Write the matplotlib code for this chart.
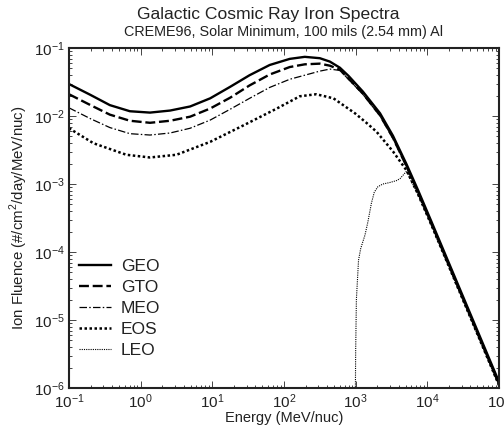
import numpy as np
import matplotlib
matplotlib.use("Agg")
import matplotlib.pyplot as plt
from matplotlib.ticker import LogLocator, NullFormatter

plt.rcParams['font.family'] = ['Liberation Sans', 'DejaVu Sans']
plt.rcParams['mathtext.fontset'] = 'custom'
plt.rcParams['mathtext.rm'] = 'Liberation Sans'

# energy grid (log10 MeV/nuc) used by GEO, GTO, MEO
main_log_energy = [-1.0, -0.7, -0.43, -0.15, 0.13, 0.41, 0.69, 0.97, 1.25, 1.52, 1.80,
                   2.08, 2.29, 2.50, 2.64, 2.78, 2.90, 3.10, 3.34, 3.52, 3.71, 3.87,
                   4.06, 4.17, 4.50, 4.75, 5.0]
geo_log_flux = [-1.53, -1.69, -1.84, -1.93, -1.95, -1.92, -1.86, -1.74, -1.57, -1.40, -1.25,
                -1.16, -1.13, -1.15, -1.20, -1.29, -1.41, -1.64, -1.96, -2.29, -2.71, -3.09,
                -3.56, -3.835, -4.66, -5.285, -5.91]
gto_log_flux = [-1.68, -1.84, -1.98, -2.07, -2.10, -2.07, -2.01, -1.89, -1.73, -1.55, -1.39,
                -1.28, -1.24, -1.23, -1.26, -1.32, -1.45, -1.67, -1.99, -2.32, -2.74, -3.12,
                -3.59, -3.865, -4.69, -5.315, -5.94]
meo_log_flux = [-1.88, -2.04, -2.17, -2.26, -2.28, -2.25, -2.18, -2.06, -1.90, -1.74, -1.58,
                -1.46, -1.40, -1.34, -1.31, -1.33, -1.46, -1.68, -2.00, -2.33, -2.75, -3.13,
                -3.60, -3.875, -4.70, -5.325, -5.95]

eos_log_energy = [-1.0, -0.66, -0.2, 0.13, 0.5, 0.97, 1.43, 1.90, 2.22, 2.45, 2.69, 2.99,
                  3.15, 3.29, 3.52, 3.71, 3.87, 4.06, 4.17, 4.50, 4.75, 5.0]
eos_log_flux = [-2.18, -2.40, -2.57, -2.61, -2.57, -2.38, -2.14, -1.89, -1.71, -1.68, -1.74, -1.96,
                -2.10, -2.23, -2.52, -2.80, -3.15, -3.61, -3.885, -4.71, -5.335, -5.96]

leo_log_energy = [2.99, 3.00, 3.01, 3.04, 3.07, 3.13, 3.17, 3.22, 3.26, 3.31, 3.38, 3.47,
                  3.57, 3.62, 3.67, 3.71, 3.87, 4.06, 4.17, 4.50, 4.75, 5.0]
leo_log_flux = [-7.0, -5.45, -4.70, -4.12, -3.95, -3.75, -3.56, -3.28, -3.12, -3.04, -3.00, -2.98,
                -2.95, -2.92, -2.86, -2.81, -3.16, -3.62, -3.895, -4.72, -5.345, -5.97]

series = [
    ("GEO", main_log_energy, geo_log_flux, dict(linestyle='-', linewidth=1.7)),
    ("GTO", main_log_energy, gto_log_flux, dict(linestyle=(0, (4.2, 1.6)), linewidth=1.7)),
    ("MEO", main_log_energy, meo_log_flux, dict(linestyle=(0, (6, 1.8, 1.2, 1.8)), linewidth=0.9)),
    ("EOS", eos_log_energy, eos_log_flux, dict(linestyle=(0, (1.0, 1.0)), linewidth=1.8)),
    ("LEO", leo_log_energy, leo_log_flux, dict(linestyle=(0, (1.0, 1.0)), linewidth=0.8)),
]

fig = plt.figure(figsize=(5.04, 4.28), dpi=100)
ax = fig.add_axes([69/504, 1-388/428, 430/504, 340/428])

for name, le, lf, style in series:
    ax.plot(10**np.array(le), 10**np.array(lf), color='black', label=name, **style)

ax.set_xscale('log')
ax.set_yscale('log')
ax.set_xlim(1e-1, 1e5)
ax.set_ylim(1e-6, 1e-1)

ax.xaxis.set_major_locator(LogLocator(base=10, numticks=20))
ax.yaxis.set_major_locator(LogLocator(base=10, numticks=20))
ax.xaxis.set_minor_locator(LogLocator(base=10, subs=np.arange(2, 10), numticks=20))
ax.yaxis.set_minor_locator(LogLocator(base=10, subs=np.arange(2, 10), numticks=20))
ax.xaxis.set_minor_formatter(NullFormatter())
ax.yaxis.set_minor_formatter(NullFormatter())
ax.tick_params(which='both', direction='in', top=True, right=True, labelsize=11,
               width=0.7, color='#444444', labelcolor='#222222')
ax.tick_params(which='major', length=5, pad=3)
ax.tick_params(which='minor', length=2.5)
for sp in ax.spines.values():
    sp.set_linewidth(1.5)
    sp.set_color('#222222')

ax.set_xlabel("Energy (MeV/nuc)", fontsize=10.5, labelpad=0, color='#222222')
ax.set_ylabel("Ion Fluence (#/cm$^2$/day/MeV/nuc)", fontsize=10.8, labelpad=3, color='#222222')

fig.text(268/504, 1-15/428, "Galactic Cosmic Ray Iron Spectra", ha='center', va='center',
         fontsize=12.6, color='#222222')
fig.text(283/504, 1-32/428, "CREME96, Solar Minimum, 100 mils (2.54 mm) Al", ha='center', va='center',
         fontsize=10.4, color='#222222')

ax.legend(loc='upper left', bbox_to_anchor=(-0.006, 0.415), frameon=False, fontsize=12.5,
          handlelength=1.85, handletextpad=0.6, labelspacing=0.34, borderaxespad=0.3,
          labelcolor='#222222')

fig.savefig("out.png", dpi=100)
